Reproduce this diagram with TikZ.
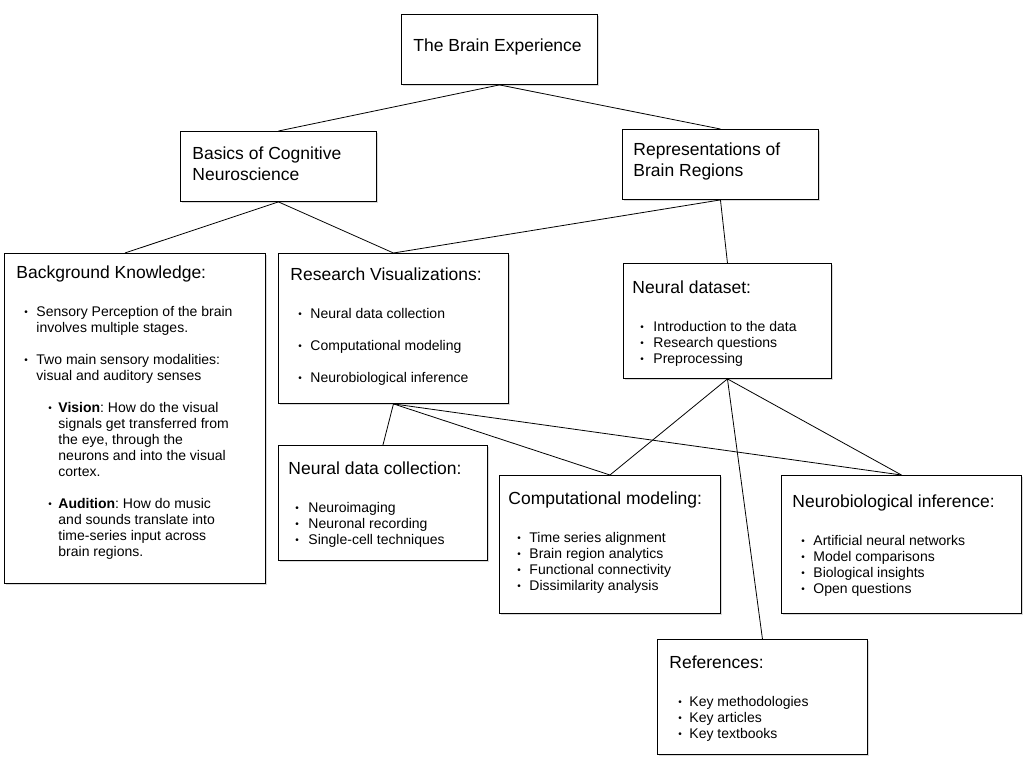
\documentclass[tikz,border=0pt]{standalone}
\usepackage{fontspec}
\setmainfont{Liberation Sans}
\usetikzlibrary{shadows}
\frenchspacing

\newcommand{\itemdot}{\raisebox{0.15ex}{\fontsize{10}{10}\selectfont\textbullet}}
\newcommand{\blt}[2]{\hspace*{#1}\makebox[\dimexpr#2-#1\relax][l]{\itemdot}}
\newcommand{\boxbody}[6]{\parbox[c][#2][t]{#1}{\leftskip=#3\fontsize{17.5}{21}\selectfont\rule{0pt}{#4}#5\par\leftskip=0pt\fontsize{14}{16}\selectfont\vspace{22pt}#6}}

\begin{document}
\begin{tikzpicture}[x=1pt, y=-1pt,
    card/.style={draw, line width=0.9pt, fill=white, inner sep=0pt, anchor=north west,
        drop shadow={shadow xshift=1.5pt, shadow yshift=-2pt, opacity=0.3}},
    link/.style={line width=0.8pt}
  ]
    \useasboundingbox (0,0) rectangle (1025,763);

    \node[card] (top) at (401,14) {\boxbody{196pt}{70pt}{12pt}{37pt}{The Brain Experience}{}};
    \node[card] (basics) at (180,131) {\boxbody{196pt}{70pt}{12pt}{28pt}{Basics of Cognitive\\Neuroscience}{}};
    \node[card] (rep) at (622,129) {\boxbody{196pt}{70pt}{11pt}{26pt}{Representations of\\Brain Regions}{}};

    \node[card] (bg) at (4,253) {\boxbody{261pt}{330pt}{12pt}{25pt}{Background Knowledge:}{%
        \blt{20pt}{32pt}Sensory Perception of the brain\\
        \hspace*{32pt}involves multiple stages.\\[16pt]
        \blt{20pt}{32pt}Two main sensory modalities:\\
        \hspace*{32pt}visual and auditory senses\\[16pt]
        \blt{44pt}{54pt}\textbf{Vision}: How do the visual\\
        \hspace*{54pt}signals get transferred from\\
        \hspace*{54pt}the eye, through the\\
        \hspace*{54pt}neurons and into the visual\\
        \hspace*{54pt}cortex.\\[16pt]
        \blt{44pt}{54pt}\textbf{Audition}: How do music\\
        \hspace*{54pt}and sounds translate into\\
        \hspace*{54pt}time-series input across\\
        \hspace*{54pt}brain regions.}};
    \node[card] (research) at (278,253) {\boxbody{230pt}{150pt}{12pt}{27pt}{Research Visualizations:}{%
        \blt{20pt}{32pt}Neural data collection\\[16pt]
        \blt{20pt}{32pt}Computational modeling\\[16pt]
        \blt{20pt}{32pt}Neurobiological inference}};
    \node[card] (dataset) at (623,263) {\boxbody{208pt}{115pt}{9pt}{30pt}{Neural dataset:}{%
        \blt{17pt}{30pt}Introduction to the data\\
        \blt{17pt}{30pt}Research questions\\
        \blt{17pt}{30pt}Preprocessing}};

    \node[card] (ndc) at (278,445) {\boxbody{209pt}{115pt}{10pt}{29pt}{Neural data collection:}{%
        \blt{17pt}{30pt}Neuroimaging\\
        \blt{17pt}{30pt}Neuronal recording\\
        \blt{17pt}{30pt}Single-cell techniques}};
    \node[card] (comp) at (499,475) {\boxbody{221pt}{138pt}{9pt}{29pt}{Computational modeling:}{%
        \blt{18pt}{30pt}Time series alignment\\
        \blt{18pt}{30pt}Brain region analytics\\
        \blt{18pt}{30pt}Functional connectivity\\
        \blt{18pt}{30pt}Dissimilarity analysis}};
    \node[card] (neuro) at (781,475) {\boxbody{240pt}{138pt}{11pt}{32pt}{Neurobiological inference:}{%
        \blt{20pt}{32pt}Artificial neural networks\\
        \blt{20pt}{32pt}Model comparisons\\
        \blt{20pt}{32pt}Biological insights\\
        \blt{20pt}{32pt}Open questions}};
    \node[card] (refs) at (657,639) {\boxbody{210pt}{115pt}{12pt}{29pt}{References:}{%
        \blt{21pt}{32pt}Key methodologies\\
        \blt{21pt}{32pt}Key articles\\
        \blt{21pt}{32pt}Key textbooks}};

    \draw[link] (top.south) -- (basics.north);
    \draw[link] (top.south) -- (rep.north);
    \draw[link] (basics.south) -- ([xshift=-10pt]bg.north);
    \draw[link] (basics.south) -- (research.north);
    \draw[link] (rep.south) -- (research.north);
    \draw[link] (rep.south) -- (dataset.north);
    \draw[link] (research.south) -- (ndc.north);
    \draw[link] (research.south) -- (comp.north);
    \draw[link] (research.south) -- (neuro.north);
    \draw[link] (dataset.south) -- (comp.north);
    \draw[link] (dataset.south) -- (neuro.north);
    \draw[link] (dataset.south) -- (refs.north);
\end{tikzpicture}
\end{document}
